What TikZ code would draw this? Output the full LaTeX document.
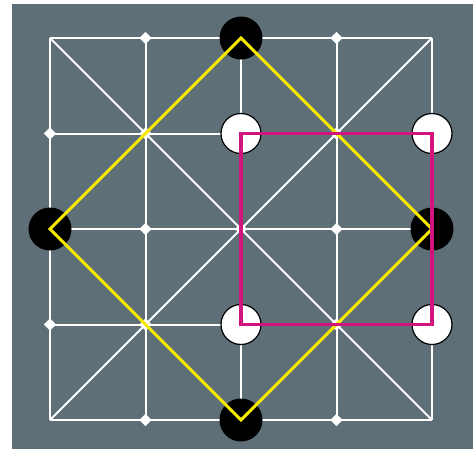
\documentclass[tikz,border=0pt]{standalone}
\usepackage{tikz}
\usetikzlibrary{positioning}
\definecolor{boardbg}{HTML}{5E6F78}
\definecolor{movey}{HTML}{F7E800}
\definecolor{movem}{HTML}{D2147E}
\tikzset{
  gridl/.style={draw=white,line width=2pt},
  bstone/.style={circle,fill=black,minimum size=43pt,inner sep=0pt},
  wstone/.style={circle,draw=black,line width=1.2pt,fill=white,minimum size=40pt,inner sep=0pt},
  ymove/.style={draw=movey,line width=3pt},
  mmove/.style={draw=movem,line width=3.5pt}
}
\begin{document}
\begin{tikzpicture}[x=95.5pt,y=-95.5pt]
\useasboundingbox (-0.5236,-0.3979) rectangle (4.4293,4.3037);
\fill[boardbg] (-0.3979,-0.356) rectangle (4.4293,4.3037);
% board lines
\foreach \i in {0,...,4}{\draw[gridl] (\i,0)--(\i,4); \draw[gridl] (0,\i)--(4,\i);}
\draw[gridl] (0,0)--(4,4); \draw[gridl] (4,0)--(0,4);
\draw[gridl] (2,0)--(4,2)--(2,4)--(0,2)--cycle;
\foreach \i in {0,...,4}{\foreach \j in {0,...,4}{
  \ifnum\numexpr(\i-2)*(\i-2)*(\j-2)*(\j-2)\relax=16 \else
  \fill[white] (\i,\j) +(0.065,0)--+(0,0.065)--+(-0.065,0)--+(0,-0.065)--cycle;\fi}}
% stones
\node[bstone] (bt) at (2,0) {};
\node[bstone] (bl) at (0,2) {};
\node[bstone] (br) at (4,2) {};
\node[bstone] (bb) at (2,4) {};
\node[wstone] (wa) at (2,1) {};
\node[wstone] (wb) at (4,1) {};
\node[wstone] (wc) at (2,3) {};
\node[wstone] (wd) at (4,3) {};
% moves
\draw[ymove] (bt.center)--(br.center)--(bb.center)--(bl.center)--cycle;
\draw[mmove] (wa.center)--(wb.center)--(wd.center)--(wc.center)--cycle;
\end{tikzpicture}
\end{document}
